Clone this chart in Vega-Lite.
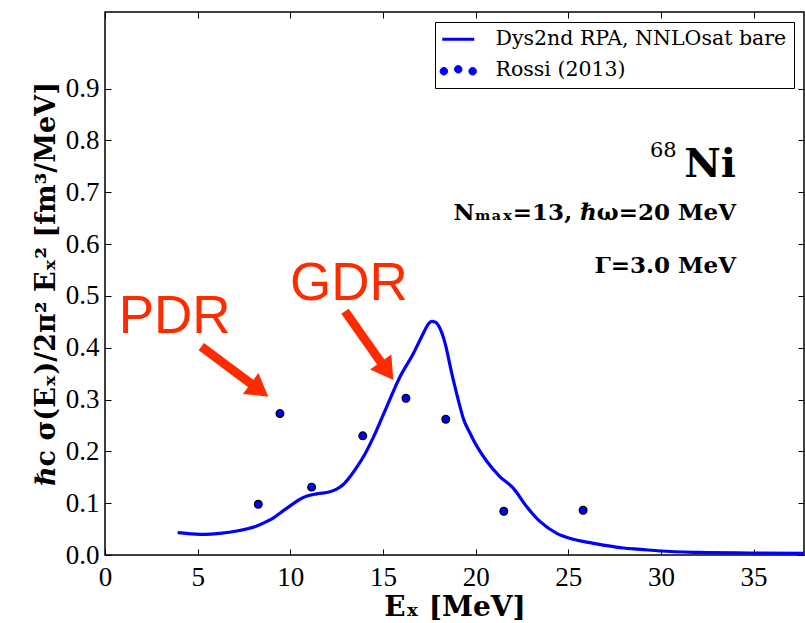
{
  "$schema": "https://vega.github.io/schema/vega-lite/v6.json",
  "width": 699,
  "height": 543,
  "autosize": "none",
  "padding": {"left": 105, "top": 12, "right": 1, "bottom": 68},
  "background": "white",
  "config": {
    "view": {"stroke": "black", "strokeWidth": 1.5},
    "axis": {"grid": false, "domain": false, "tickColor": "black", "tickWidth": 1, "tickSize": -6, "labelColor": "black", "titleColor": "black"}
  },
  "datasets": {
    "curve": [
      {"E": 3.92, "S": 0.0431, "series": "Dys2nd RPA, NNLOsat bare"},
      {"E": 4.5, "S": 0.0413, "series": "Dys2nd RPA, NNLOsat bare"},
      {"E": 5.13, "S": 0.0400, "series": "Dys2nd RPA, NNLOsat bare"},
      {"E": 5.7, "S": 0.0404, "series": "Dys2nd RPA, NNLOsat bare"},
      {"E": 6.21, "S": 0.0419, "series": "Dys2nd RPA, NNLOsat bare"},
      {"E": 7.11, "S": 0.0463, "series": "Dys2nd RPA, NNLOsat bare"},
      {"E": 8.19, "S": 0.056, "series": "Dys2nd RPA, NNLOsat bare"},
      {"E": 8.9, "S": 0.0676, "series": "Dys2nd RPA, NNLOsat bare"},
      {"E": 9.8, "S": 0.090, "series": "Dys2nd RPA, NNLOsat bare"},
      {"E": 10.7, "S": 0.111, "series": "Dys2nd RPA, NNLOsat bare"},
      {"E": 11.42, "S": 0.118, "series": "Dys2nd RPA, NNLOsat bare"},
      {"E": 12.14, "S": 0.122, "series": "Dys2nd RPA, NNLOsat bare"},
      {"E": 12.5, "S": 0.127, "series": "Dys2nd RPA, NNLOsat bare"},
      {"E": 12.86, "S": 0.136, "series": "Dys2nd RPA, NNLOsat bare"},
      {"E": 13.2, "S": 0.150, "series": "Dys2nd RPA, NNLOsat bare"},
      {"E": 13.58, "S": 0.169, "series": "Dys2nd RPA, NNLOsat bare"},
      {"E": 14.0, "S": 0.193, "series": "Dys2nd RPA, NNLOsat bare"},
      {"E": 14.48, "S": 0.227, "series": "Dys2nd RPA, NNLOsat bare"},
      {"E": 15.2, "S": 0.286, "series": "Dys2nd RPA, NNLOsat bare"},
      {"E": 15.92, "S": 0.344, "series": "Dys2nd RPA, NNLOsat bare"},
      {"E": 16.64, "S": 0.389, "series": "Dys2nd RPA, NNLOsat bare"},
      {"E": 17.18, "S": 0.428, "series": "Dys2nd RPA, NNLOsat bare"},
      {"E": 17.45, "S": 0.446, "series": "Dys2nd RPA, NNLOsat bare"},
      {"E": 17.63, "S": 0.451, "series": "Dys2nd RPA, NNLOsat bare"},
      {"E": 17.85, "S": 0.449, "series": "Dys2nd RPA, NNLOsat bare"},
      {"E": 17.99, "S": 0.443, "series": "Dys2nd RPA, NNLOsat bare"},
      {"E": 18.35, "S": 0.409, "series": "Dys2nd RPA, NNLOsat bare"},
      {"E": 18.71, "S": 0.351, "series": "Dys2nd RPA, NNLOsat bare"},
      {"E": 19.16, "S": 0.286, "series": "Dys2nd RPA, NNLOsat bare"},
      {"E": 19.34, "S": 0.263, "series": "Dys2nd RPA, NNLOsat bare"},
      {"E": 19.7, "S": 0.235, "series": "Dys2nd RPA, NNLOsat bare"},
      {"E": 19.88, "S": 0.222, "series": "Dys2nd RPA, NNLOsat bare"},
      {"E": 20.6, "S": 0.181, "series": "Dys2nd RPA, NNLOsat bare"},
      {"E": 21.32, "S": 0.151, "series": "Dys2nd RPA, NNLOsat bare"},
      {"E": 22.03, "S": 0.129, "series": "Dys2nd RPA, NNLOsat bare"},
      {"E": 22.76, "S": 0.093, "series": "Dys2nd RPA, NNLOsat bare"},
      {"E": 23.48, "S": 0.0643, "series": "Dys2nd RPA, NNLOsat bare"},
      {"E": 24.38, "S": 0.0419, "series": "Dys2nd RPA, NNLOsat bare"},
      {"E": 25.27, "S": 0.0303, "series": "Dys2nd RPA, NNLOsat bare"},
      {"E": 26.17, "S": 0.0238, "series": "Dys2nd RPA, NNLOsat bare"},
      {"E": 27.08, "S": 0.018, "series": "Dys2nd RPA, NNLOsat bare"},
      {"E": 27.97, "S": 0.0135, "series": "Dys2nd RPA, NNLOsat bare"},
      {"E": 28.87, "S": 0.011, "series": "Dys2nd RPA, NNLOsat bare"},
      {"E": 29.95, "S": 0.0077, "series": "Dys2nd RPA, NNLOsat bare"},
      {"E": 32.1, "S": 0.005, "series": "Dys2nd RPA, NNLOsat bare"},
      {"E": 34.8, "S": 0.0039, "series": "Dys2nd RPA, NNLOsat bare"},
      {"E": 37.72, "S": 0.003, "series": "Dys2nd RPA, NNLOsat bare"}
    ],
    "rossi": [
      {"E": 8.27, "S": 0.098, "series": "Rossi (2013)"},
      {"E": 9.44, "S": 0.273, "series": "Rossi (2013)"},
      {"E": 11.15, "S": 0.131, "series": "Rossi (2013)"},
      {"E": 13.91, "S": 0.230, "series": "Rossi (2013)"},
      {"E": 16.24, "S": 0.3025, "series": "Rossi (2013)"},
      {"E": 18.39, "S": 0.262, "series": "Rossi (2013)"},
      {"E": 21.52, "S": 0.0844, "series": "Rossi (2013)"},
      {"E": 25.8, "S": 0.0863, "series": "Rossi (2013)"}
    ],
    "arrows": [
      {"x": 5.197, "y": 0.4021, "x2": 8.036, "y2": 0.3264},
      {"x": 12.952, "y": 0.4705, "x2": 15.003, "y2": 0.3662}
    ],
    "headPDR": [{"x": 8.813, "y": 0.3056}],
    "headGDR": [{"x": 15.559, "y": 0.3378}],
    "bigLabels": [
      {"x": 0.74, "y": 0.428, "label": "PDR"},
      {"x": 9.98, "y": 0.4923, "label": "GDR"}
    ],
    "boldNotes": [
      {"x": 34.05, "y": 0.6467, "label": "Nₘₐₓ=13, ℏω=20 MeV"},
      {"x": 34.05, "y": 0.5444, "label": "Γ=3.0 MeV"}
    ],
    "nucleus": [{"x": 34.05, "y": 0.7303, "label": "Ni"}],
    "massNumber": [{"x": 30.85, "y": 0.769, "label": "68"}]
  },
  "layer": [
    {
      "data": {"name": "curve"},
      "mark": {"type": "line", "strokeWidth": 3.2, "interpolate": "monotone"},
      "encoding": {
        "x": {"field": "E", "type": "quantitative", "scale": {"domain": [0, 37.72], "nice": false, "zero": false},
          "axis": {"orient": "bottom", "values": [0, 5, 10, 15, 20, 25, 30, 35], "format": "d", "labelFont": "Liberation Serif", "labelFontSize": 27, "labelPadding": 15, "labelFlush": false,
            "title": "Eₓ [MeV]", "titleFont": "DejaVu Serif", "titleFontWeight": "bold", "titleFontSize": 28, "titlePadding": 3}},
        "y": {"field": "S", "type": "quantitative", "scale": {"domain": [0, 1.048], "nice": false, "zero": false},
          "axis": {"orient": "left", "values": [0, 0.1, 0.2, 0.3, 0.4, 0.5, 0.6, 0.7, 0.8, 0.9], "format": ".1f", "labelFont": "Liberation Serif", "labelFontSize": 27, "labelPadding": 12, "labelFlush": false,
            "title": "ℏc σ(Eₓ)/2π² Eₓ² [fm³/MeV]", "titleFont": "DejaVu Serif", "titleFontWeight": "bold", "titleFontSize": 27, "titlePadding": 5}},
        "color": {"field": "series", "type": "nominal",
          "scale": {"domain": ["Dys2nd RPA, NNLOsat bare", "Rossi (2013)"], "range": ["#0000ff", "#0000ff"]},
          "legend": {
            "title": null, "orient": "top-right", "offset": 10, "padding": 7, "strokeColor": "black", "fillColor": "white",
            "labelFont": "DejaVu Serif", "labelFontSize": 20.5, "labelColor": "black", "labelOffset": 27, "labelLimit": 0,
            "symbolSize": 1024, "symbolOffset": 6, "rowPadding": 10,
            "encode": {
              "symbols": {
                "update": {
                  "shape": {"signal": "datum.value === 'Rossi (2013)' ? 'M-1.135,0.06A0.235,0.235 0 1,0 -0.665,0.06A0.235,0.235 0 1,0 -1.135,0.06ZM-0.235,-0.06A0.235,0.235 0 1,0 0.235,-0.06A0.235,0.235 0 1,0 -0.235,-0.06ZM0.665,0.06A0.235,0.235 0 1,0 1.135,0.06A0.235,0.235 0 1,0 0.665,0.06Z' : 'stroke'"},
                  "fill": {"signal": "datum.value === 'Rossi (2013)' ? '#0000ff' : 'transparent'"},
                  "stroke": {"signal": "datum.value === 'Rossi (2013)' ? 'black' : '#0000ff'"},
                  "strokeWidth": {"signal": "datum.value === 'Rossi (2013)' ? 1 : 3.2"},
                  "size": {"value": 1024},
                  "opacity": {"value": 1}
                }
              }
            }
          }}
      }
    },
    {
      "data": {"name": "rossi"},
      "mark": {"type": "point", "filled": true, "size": 60, "stroke": "black", "strokeWidth": 1.2, "opacity": 1},
      "encoding": {
        "x": {"field": "E", "type": "quantitative", "scale": {"domain": [0, 37.72], "nice": false, "zero": false},
          "axis": {"orient": "top", "values": [0, 5, 10, 15, 20, 25, 30, 35], "labels": false, "title": null}},
        "y": {"field": "S", "type": "quantitative", "scale": {"domain": [0, 1.048], "nice": false, "zero": false},
          "axis": {"orient": "right", "values": [0, 0.1, 0.2, 0.3, 0.4, 0.5, 0.6, 0.7, 0.8, 0.9], "labels": false, "title": null}},
        "color": {"field": "series", "type": "nominal",
          "scale": {"domain": ["Dys2nd RPA, NNLOsat bare", "Rossi (2013)"], "range": ["#0000ff", "#0000ff"]}},
        "fill": {"value": "#0000ff"}
      }
    },
    {
      "data": {"name": "arrows"},
      "mark": {"type": "rule", "color": "#ff2b00", "strokeWidth": 9, "strokeCap": "butt"},
      "encoding": {
        "x": {"field": "x", "type": "quantitative", "scale": {"domain": [0, 37.72], "nice": false, "zero": false}, "axis": null},
        "y": {"field": "y", "type": "quantitative", "scale": {"domain": [0, 1.048], "nice": false, "zero": false}, "axis": null},
        "x2": {"field": "x2"},
        "y2": {"field": "y2"}
      }
    },
    {
      "data": {"name": "headPDR"},
      "mark": {"type": "point", "filled": true, "color": "#ff2b00", "opacity": 1, "strokeWidth": 0, "shape": "M0,0L0.59,1L-0.59,1Z", "size": 1936, "angle": 126.7},
      "encoding": {
        "x": {"field": "x", "type": "quantitative", "scale": {"domain": [0, 37.72], "nice": false, "zero": false}, "axis": null},
        "y": {"field": "y", "type": "quantitative", "scale": {"domain": [0, 1.048], "nice": false, "zero": false}, "axis": null}
      }
    },
    {
      "data": {"name": "headGDR"},
      "mark": {"type": "point", "filled": true, "color": "#ff2b00", "opacity": 1, "strokeWidth": 0, "shape": "M0,0L0.59,1L-0.59,1Z", "size": 1936, "angle": 144.9},
      "encoding": {
        "x": {"field": "x", "type": "quantitative", "scale": {"domain": [0, 37.72], "nice": false, "zero": false}, "axis": null},
        "y": {"field": "y", "type": "quantitative", "scale": {"domain": [0, 1.048], "nice": false, "zero": false}, "axis": null}
      }
    },
    {
      "data": {"name": "bigLabels"},
      "mark": {"type": "text", "font": "Liberation Sans", "fontSize": 53, "color": "#ff2b00", "align": "left", "baseline": "alphabetic"},
      "encoding": {
        "x": {"field": "x", "type": "quantitative", "scale": {"domain": [0, 37.72], "nice": false, "zero": false}, "axis": null},
        "y": {"field": "y", "type": "quantitative", "scale": {"domain": [0, 1.048], "nice": false, "zero": false}, "axis": null},
        "text": {"field": "label"}
      }
    },
    {
      "data": {"name": "boldNotes"},
      "mark": {"type": "text", "font": "DejaVu Serif", "fontSize": 23, "fontWeight": "bold", "color": "black", "align": "right", "baseline": "alphabetic"},
      "encoding": {
        "x": {"field": "x", "type": "quantitative", "scale": {"domain": [0, 37.72], "nice": false, "zero": false}, "axis": null},
        "y": {"field": "y", "type": "quantitative", "scale": {"domain": [0, 1.048], "nice": false, "zero": false}, "axis": null},
        "text": {"field": "label"}
      }
    },
    {
      "data": {"name": "nucleus"},
      "mark": {"type": "text", "font": "DejaVu Serif", "fontSize": 40, "fontWeight": "bold", "color": "black", "align": "right", "baseline": "alphabetic"},
      "encoding": {
        "x": {"field": "x", "type": "quantitative", "scale": {"domain": [0, 37.72], "nice": false, "zero": false}, "axis": null},
        "y": {"field": "y", "type": "quantitative", "scale": {"domain": [0, 1.048], "nice": false, "zero": false}, "axis": null},
        "text": {"field": "label"}
      }
    },
    {
      "data": {"name": "massNumber"},
      "mark": {"type": "text", "font": "DejaVu Serif", "fontSize": 21, "color": "black", "align": "right", "baseline": "alphabetic"},
      "encoding": {
        "x": {"field": "x", "type": "quantitative", "scale": {"domain": [0, 37.72], "nice": false, "zero": false}, "axis": null},
        "y": {"field": "y", "type": "quantitative", "scale": {"domain": [0, 1.048], "nice": false, "zero": false}, "axis": null},
        "text": {"field": "label"}
      }
    }
  ],
  "resolve": {"axis": {"x": "independent", "y": "independent"}}
}
